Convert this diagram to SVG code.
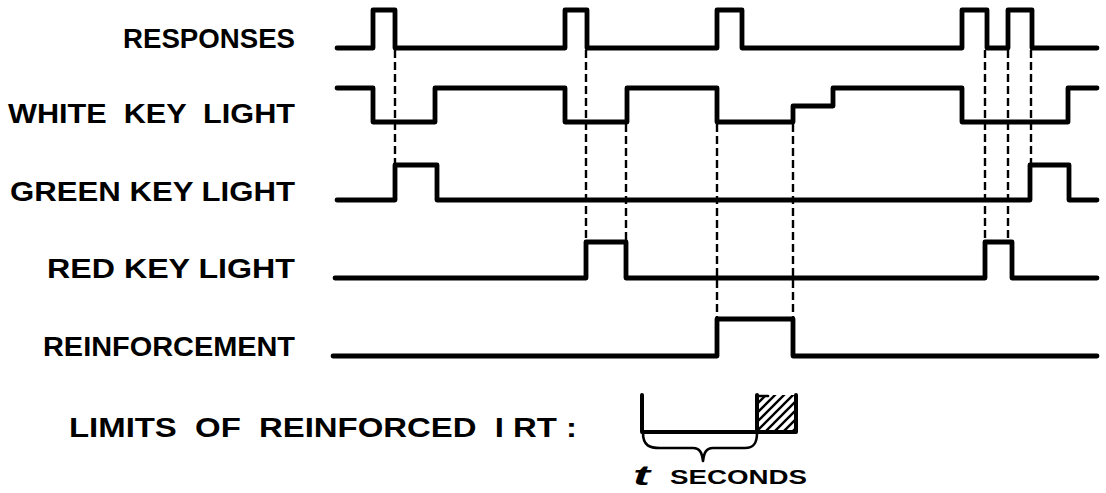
<svg xmlns="http://www.w3.org/2000/svg" width="1106" height="493" viewBox="0 0 1106 493">
  <style>
    .lbl { font-family: "Liberation Sans", Arial, sans-serif; font-weight: bold; font-size: 27px; fill: #000; }
    .trace { fill: none; stroke: #000; stroke-width: 4.8; stroke-linejoin: round; stroke-linecap: round; }
    .dash { fill: none; stroke: #000; stroke-width: 2.4; stroke-dasharray: 8 4; }
    .thin { fill: none; stroke: #000; stroke-width: 2.6; stroke-linecap: round; stroke-linejoin: round; }
  </style>
  <defs>
    <pattern id="hatch" patternUnits="userSpaceOnUse" width="9" height="9">
      <path d="M-1,10 L10,-1 M-3,3 L3,-3 M6,12 L12,6" stroke="#000" stroke-width="2.4"/>
    </pattern>
  </defs>
  <rect x="0" y="0" width="1106" height="493" fill="#fff"/>

  <g id="connectors">
    <line class="dash" x1="395" y1="50" x2="395" y2="165"/>
    <line class="dash" x1="586" y1="50" x2="586" y2="242"/>
    <line class="dash" x1="626" y1="124" x2="626" y2="242"/>
    <line class="dash" x1="717" y1="124" x2="717" y2="318"/>
    <line class="dash" x1="793" y1="124" x2="793" y2="318"/>
    <line class="dash" x1="985" y1="50" x2="985" y2="242"/>
    <line class="dash" x1="1008" y1="50" x2="1008" y2="242"/>
    <line class="dash" x1="1031" y1="50" x2="1031" y2="165"/>
  </g>

  <g id="responses">
    <text class="lbl" x="295" y="48" text-anchor="end" textLength="172" lengthAdjust="spacingAndGlyphs">RESPONSES</text>
    <path class="trace" d="M337,48 H373 V10 H395 V48 H565 V10 H587 V48 H717 V10 H742 V48 H962 V10 H987 V48 H1008 V10 H1032 V48 H1097"/>
  </g>

  <g id="white-key-light">
    <text class="lbl" x="295" y="123" text-anchor="end" textLength="287" lengthAdjust="spacingAndGlyphs" xml:space="preserve">WHITE  KEY  LIGHT</text>
    <path class="trace" d="M337,88 H373 V122 H435 V88 H565 V122 H627 V88 H717 V122 H793 V106 H833 V88 H962 V122 H1068 V88 H1097"/>
  </g>

  <g id="green-key-light">
    <text class="lbl" x="295" y="201" text-anchor="end" textLength="285" lengthAdjust="spacingAndGlyphs">GREEN KEY LIGHT</text>
    <path class="trace" d="M337,200 H395 V165 H437 V200 H1030 V165 H1069 V200 H1097"/>
  </g>

  <g id="red-key-light">
    <text class="lbl" x="295" y="278" text-anchor="end" textLength="248" lengthAdjust="spacingAndGlyphs">RED KEY LIGHT</text>
    <path class="trace" d="M335,278 H586 V242 H626 V278 H985 V242 H1012 V278 H1097"/>
  </g>

  <g id="reinforcement">
    <text class="lbl" x="295" y="356" text-anchor="end" textLength="252" lengthAdjust="spacingAndGlyphs">REINFORCEMENT</text>
    <path class="trace" d="M333,356 H717 V319 H793 V356 H1097"/>
  </g>

  <g id="irt-limits">
    <text class="lbl" x="69" y="437" textLength="508" lengthAdjust="spacingAndGlyphs" xml:space="preserve">LIMITS  OF  REINFORCED  I RT :</text>
    <path class="trace" d="M642,395 V432 H757" style="stroke-width:4"/>
    <rect x="757" y="395" width="39" height="37" fill="url(#hatch)"/>
    <path class="trace" d="M757,395 V432 H796 V395" style="stroke-width:4"/>
    <path class="thin" d="M757,396 H768"/>
    <path class="thin" d="M643,433 C643,446 650,448 660,448 H693 C700,448 702,453 703,461 C704,453 706,448 713,448 H745 C754,448 757,443 757,433"/>
    <text class="lbl" x="633" y="485" style="font-size:28px;font-style:italic" textLength="17" lengthAdjust="spacingAndGlyphs">t</text>
    <text class="lbl" x="670" y="484" style="font-size:20px" textLength="137" lengthAdjust="spacingAndGlyphs">SECONDS</text>
  </g>
</svg>
